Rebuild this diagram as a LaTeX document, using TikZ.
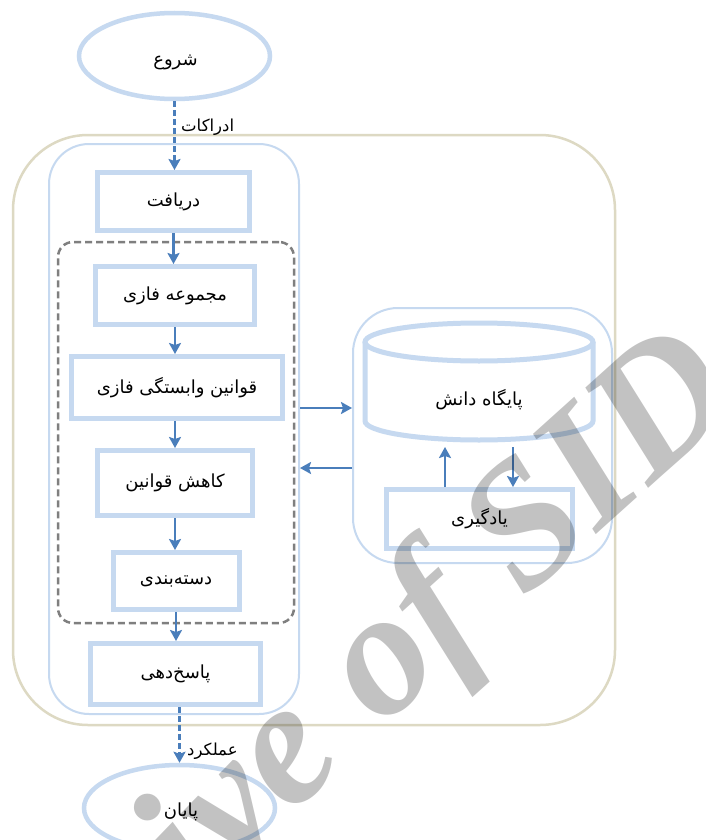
\documentclass[tikz,border=0pt]{standalone}
\usepackage{fontspec}
\usetikzlibrary{arrows.meta,shapes.geometric}
\TeXXeTstate=1
\newfontfamily\fa[Script=Arabic]{DejaVu Sans}
\newfontfamily\wmfont{Liberation Serif}
\definecolor{boxblue}{RGB}{198,217,240}
\definecolor{arrblue}{RGB}{74,126,187}
\definecolor{tanline}{RGB}{221,217,195}
\definecolor{dgray}{RGB}{127,127,127}
\tikzset{
  stepbox/.style={draw=boxblue, line width=5, minimum width=#1, inner sep=0, font=\fa\fontsize{18}{21}\selectfont},
  oval/.style={draw=boxblue, line width=4.5, ellipse, minimum width=191, minimum height=86, inner sep=0},
  ovaltext/.style={font=\fa\fontsize{18}{21}\selectfont, inner sep=0},
  arr/.style={draw=arrblue, line width=2.5, -{Stealth[length=11pt,width=12pt,inset=2pt]}},
  darr/.style={arr, dash pattern=on 6pt off 3pt},
  lbl/.style={font=\fa\fontsize{16.5}{19}\selectfont, inner sep=0},
  wmark/.style={text=black, opacity=0.24, inner sep=0, font=\wmfont\bfseries\itshape\fontsize{178}{178}\selectfont},
}
\begin{document}
\begin{tikzpicture}[x=1pt,y=-1pt]
\useasboundingbox (0,0) rectangle (706,840);
\fill[white] (0,0) rectangle (706,840);
% containers
\node[draw=tanline, line width=2.5, rounded corners=75, minimum width=602, minimum height=590, inner sep=0] (outer) at (314,430) {};
\node[draw=boxblue, line width=2, rounded corners=40, minimum width=250, minimum height=570, inner sep=0] (lft) at (174,429) {};
\node[draw=dgray, line width=2.5, dash pattern=on 7pt off 4pt, rounded corners=15, minimum width=236, minimum height=381, inner sep=0] (grp) at (176,432.5) {};
\node[draw=boxblue, line width=2, rounded corners=45, minimum width=259, minimum height=255, inner sep=0] (rgt) at (482.5,435.5) {};
% start / end
\node[oval] (start) at (174.5,56) {};
\node[ovaltext] (starttxt) at (175.5,62) {\beginR شروع\endR};
\node[oval] (end) at (179.5,808) {};
\node[ovaltext] (endtxt) at (181,812) {\beginR پایان\endR};
% steps
\node[stepbox=152, minimum height=58] (b1) at (173.5,201.5) {\beginR دریافت\endR};
\node[stepbox=159, minimum height=58] (b2) at (175,295.5) {\beginR مجموعه فازی\endR};
\node[stepbox=211, minimum height=62] (b3) at (177,387.5) {\beginR قوانین وابستگی فازی\endR};
\node[stepbox=155, minimum height=65] (b4) at (175,483) {\beginR کاهش قوانین\endR};
\node[stepbox=126, minimum height=57] (b5) at (176,581) {\beginR دسته^^^^200cبندی\endR};
\node[stepbox=170, minimum height=61] (b6) at (175.5,674) {\beginR پاسخ^^^^200cدهی\endR};
\node[stepbox=186, minimum height=59] (b7) at (479.5,519) {\beginR یادگیری\endR};
% knowledge base cylinder
\draw[boxblue, line width=5] (479,342) ellipse [x radius=114, y radius=19];
\draw[boxblue, line width=5] (365,342) -- (365,421) arc[start angle=180, end angle=0, x radius=114, y radius=19] -- (593,342);
\node[font=\fa\fontsize{18}{21}\selectfont, inner sep=0] (kb) at (479,400) {\beginR پایگاه دانش\endR};
\coordinate (kbbot) at (479,447);
% arrows
\draw[darr] (start.south) -- (start.south |- b1.north);
\node[lbl, anchor=west] (l1) at (181,127) {\beginR ادراکات\endR};
\draw[arr] (b1.south) -- (b1.south |- b2.north);
\draw[arr] (b2.south) -- (b2.south |- b3.north);
\draw[arr] (b3.south -| b2.south) -- (b2.south |- b4.north);
\draw[arr] (b4.south) -- (b4.south |- b5.north);
\draw[arr] (b5.south) -- (b5.south |- b6.north);
\draw[darr] (b6.south -| end.north) -- (end.north);
\node[lbl, anchor=west] (l2) at (187,751) {\beginR عملکرد\endR};
\draw[arr] (lft.east |- 0,408) -- (rgt.west |- 0,408);
\draw[arr] (rgt.west |- 0,468) -- (lft.east |- 0,468);
\draw[arr] (b7.north -| 445,0) -- (kbbot -| 445,0);
\draw[arr] (kbbot -| 513,0) -- (b7.north -| 513,0);
% watermark
\begin{scope}
\clip (0,0) rectangle (706,840);
\node[wmark, rotate=46, anchor=base east] (wm1) at (378,728) {Archive\kern0.25em};
\node[wmark, rotate=42, anchor=base west] (wm2) at (381,729) {of SID};
\end{scope}
\end{tikzpicture}
\end{document}
